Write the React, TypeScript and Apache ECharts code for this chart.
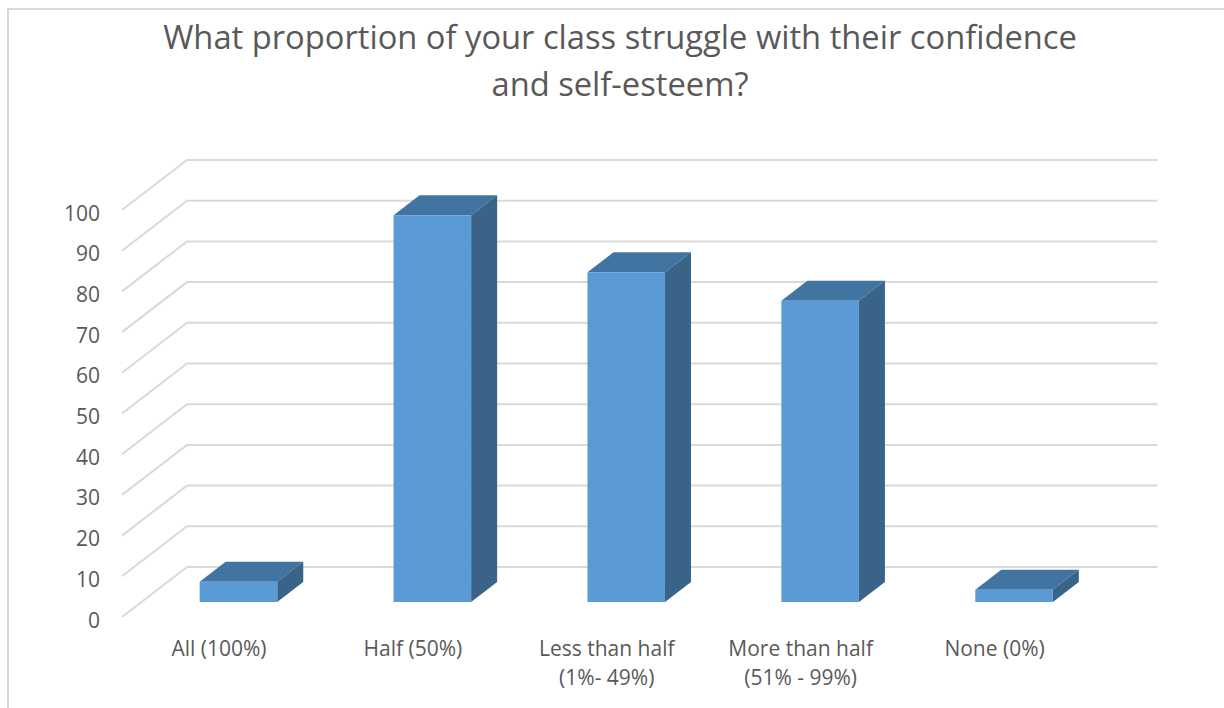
import React, { useEffect, useRef } from "react";
import * as echarts from "echarts";

const titleLines = [
  "What proportion of your class struggle with their confidence",
  "and self-esteem?",
];
const categories = [
  "All (100%)",
  "Half (50%)",
  "Less than half\n(1%- 49%)",
  "More than half\n(51% - 99%)",
  "None (0%)",
];
const responses = [5, 95, 81, 74, 3];
const yTicks = [0, 10, 20, 30, 40, 50, 60, 70, 80, 90, 100];

const FONT = '"Open Sans", sans-serif';
const TEXT = "#595959";
const RULE = "#d9d9d9";
const FRONT = "#5b9bd5";
const TOP = "#4274a2";
const SIDE = "#396387";

// Oblique offset of the back wall from the front plane of the floor.
const WALL_DX = 65;
const WALL_DY = -50;
// Back-wall gridlines run slightly past the last category band.
const WALL_OVERHANG = 1;
// Oblique offset of a bar's rear face, and where the bar sits on the floor.
const BAR_DX = 26;
const BAR_DY = -20;
const BAR_WIDTH_RATIO = 0.4;

export default function App() {
  const ref = useRef<HTMLDivElement>(null);

  useEffect(() => {
    document.body.style.margin = "0";
    const chart = echarts.init(ref.current!, null, { renderer: "svg" });
    chart.setOption({
      animation: false,
      backgroundColor: "#ffffff",
      title: {
        text: titleLines.join("\n"),
        left: 615,
        top: 8,
        textAlign: "center",
        textStyle: {
          fontFamily: FONT,
          fontSize: 32.7,
          fontWeight: "normal",
          color: TEXT,
          lineHeight: 47,
        },
      },
      grid: { left: 122, top: 210, width: 969.5, height: 407 },
      xAxis: {
        type: "category",
        data: categories,
        axisLine: { show: false },
        axisTick: { show: false },
        axisLabel: {
          interval: 0,
          margin: 16,
          fontFamily: FONT,
          fontSize: 21,
          color: TEXT,
          lineHeight: 29,
        },
      },
      yAxis: {
        type: "value",
        min: 0,
        max: 100,
        interval: 10,
        axisLine: { show: false },
        axisTick: { show: false },
        splitLine: { show: false },
        axisLabel: {
          margin: 22,
          fontFamily: FONT,
          fontSize: 21,
          color: TEXT,
          verticalAlign: "top",
          lineHeight: 5,
        },
      },
      graphic: [
        {
          type: "polyline",
          silent: true,
          shape: { points: [[8, 708], [8, 9], [1224, 9]] },
          style: { stroke: RULE, lineWidth: 2, fill: "none" },
        },
      ],
      series: [
        {
          // Gridlines run along the side wall and then across the back wall.
          type: "custom",
          silent: true,
          z: 1,
          clip: false,
          data: yTicks.map((t) => [0, t]),
          encode: { x: 0, y: 1 },
          renderItem: (params: any, api: any) => {
            const sys = params.coordSys;
            const y = api.coord([0, api.value(1)])[1];
            return {
              type: "polyline",
              shape: {
                points: [
                  [sys.x, y],
                  [sys.x + WALL_DX, y + WALL_DY],
                  [sys.x + sys.width + WALL_DX + WALL_OVERHANG, y + WALL_DY],
                ],
              },
              style: { stroke: RULE, lineWidth: 2, fill: "none" },
            };
          },
        },
        {
          type: "custom",
          silent: true,
          z: 2,
          clip: false,
          data: responses.map((v, i) => [i, v]),
          encode: { x: 0, y: 1 },
          renderItem: (_params: any, api: any) => {
            const [cx, yTop] = api.coord([api.value(0), api.value(1)]);
            const yFloor = api.coord([api.value(0), 0])[1];
            const band = api.size([1, 0])[0];
            const w = band * BAR_WIDTH_RATIO;
            // Bars stand midway between the front of the floor and the wall.
            const ox = (WALL_DX - BAR_DX) / 2;
            const oy = (WALL_DY - BAR_DY) / 2;
            const l = cx - w / 2 + ox;
            const r = cx + w / 2 + ox;
            const t = yTop + oy;
            const b = yFloor + oy;
            const poly = (points: number[][], fill: string) => ({
              type: "polygon",
              shape: { points },
              style: { fill },
            });
            return {
              type: "group",
              children: [
                poly([[l, t], [r, t], [r + BAR_DX, t + BAR_DY], [l + BAR_DX, t + BAR_DY]], TOP),
                poly([[r, t], [r + BAR_DX, t + BAR_DY], [r + BAR_DX, b + BAR_DY], [r, b]], SIDE),
                poly([[l, t], [r, t], [r, b], [l, b]], FRONT),
              ],
            };
          },
        },
      ],
    });
    return () => chart.dispose();
  }, []);

  return (
    <div
      ref={ref}
      style={{ position: "absolute", left: 0, top: 0, width: 1224, height: 708 }}
    />
  );
}
